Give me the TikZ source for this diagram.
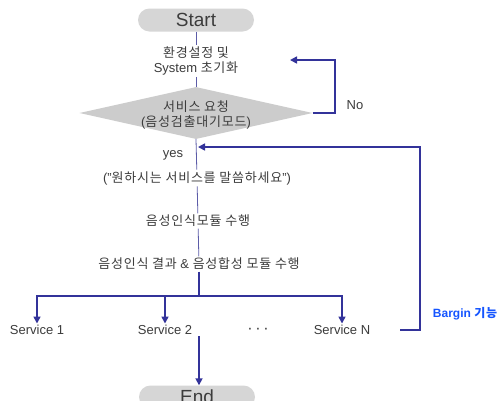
\documentclass[tikz,border=0pt]{standalone}
\usepackage{fontspec}
\setmainfont{Liberation Sans}
\newfontfamily\kr[LetterSpace=6]{Noto Sans CJK KR}
\usetikzlibrary{shapes.geometric,arrows.meta}
\definecolor{txtc}{HTML}{3C3C3C}
\definecolor{thinc}{HTML}{5C5CA8}
\definecolor{thickc}{HTML}{33339A}
\definecolor{pillc}{HTML}{D6D6D6}
\definecolor{diac}{HTML}{CCCCCC}
\definecolor{bluec}{HTML}{1555FF}
\tikzset{
  pill/.style={rounded corners=11.5pt, fill=pillc, minimum width=116pt, minimum height=23pt, inner sep=0pt, text=txtc, font=\fontsize{19}{19}\selectfont},
  txt/.style={text=txtc, font=\fontsize{13}{15}\selectfont, align=center, inner sep=1.5pt},
  lat/.style={text=txtc, font=\fontsize{13}{15}\selectfont, inner sep=1.5pt},
  thinline/.style={draw=thinc, line width=0.8pt},
  thickline/.style={draw=thickc, line width=1.6pt},
  arr/.style={thickline, -{Triangle[length=7pt,width=7pt]}},
}
\begin{document}
\begin{tikzpicture}[x=1pt,y=-1pt]
\clip (0,0) rectangle (499,400);
\fill[white] (0,0) rectangle (499,400);
% nodes
\node[pill] (start) at (196,20) {Start};
\node[txt] (init) at (196,61) {{\kr 환경설정 및}\\System {\kr 초기화}};
\node[diamond, fill=diac, minimum width=233pt, minimum height=52pt, inner sep=0pt] (dia) at (196,113) {};
\node[txt] (diat) at (196,115) {{\kr 서비스 요청}\\({\kr 음성검출대기모드})};
\node[lat] (yes) at (173,155) {yes};
\node[lat] (no) at (355,105) {No};
\node[txt] (msg) at (197,178) {("{\kr 원하시는 서비스를 말씀하세요}")};
\node[txt] (mod1) at (198,221) {\kr 음성인식모듈 수행};
\node[txt] (mod2) at (199,264) {{\kr 음성인식 결과} \& {\kr 음성합성 모듈 수행}};
\node[lat] (s1) at (37,330) {Service 1};
\node[lat] (s2) at (165,330) {Service 2};
\node[lat, font=\fontsize{16}{16}\selectfont] (dots) at (258,331) {·\,·\,·};
\node[lat] (sN) at (342,330) {Service N};
\node[pill] (endn) at (197,397) {End};
\node[text=bluec, font=\fontsize{12}{14}\selectfont\bfseries, inner sep=0pt] (barg) at (465,314) {Bargin {\kr 기능}};
% coordinates
\coordinate (br) at (199,296);
\coordinate (noC) at (335,60);
\coordinate (noT) at (290,60);
\coordinate (bgS) at (400,330);
\coordinate (bgC) at (420,147);
\coordinate (bgT) at (198,147);
% connectors
\draw[thinline] (start) -- (init);
\draw[thinline] (init) -- (dia.north);
\draw[thinline] (dia.south) -- (msg);
\draw[thinline] (msg) -- (mod1);
\draw[thinline] (mod1) -- (mod2);
\draw[thickline] (mod2.south -| br) -- (br);
\draw[arr] (br) -| (s1.north);
\draw[arr] (br) -| (s2.north);
\draw[arr] (br) -| (sN.north);
\draw[arr] (s2.south -| br) -- (endn.north -| br);
\draw[arr] (dia.east) -| (noC) -- (noT);
\draw[arr] (bgS) -| (bgC) -- (bgT);
\end{tikzpicture}
\end{document}
